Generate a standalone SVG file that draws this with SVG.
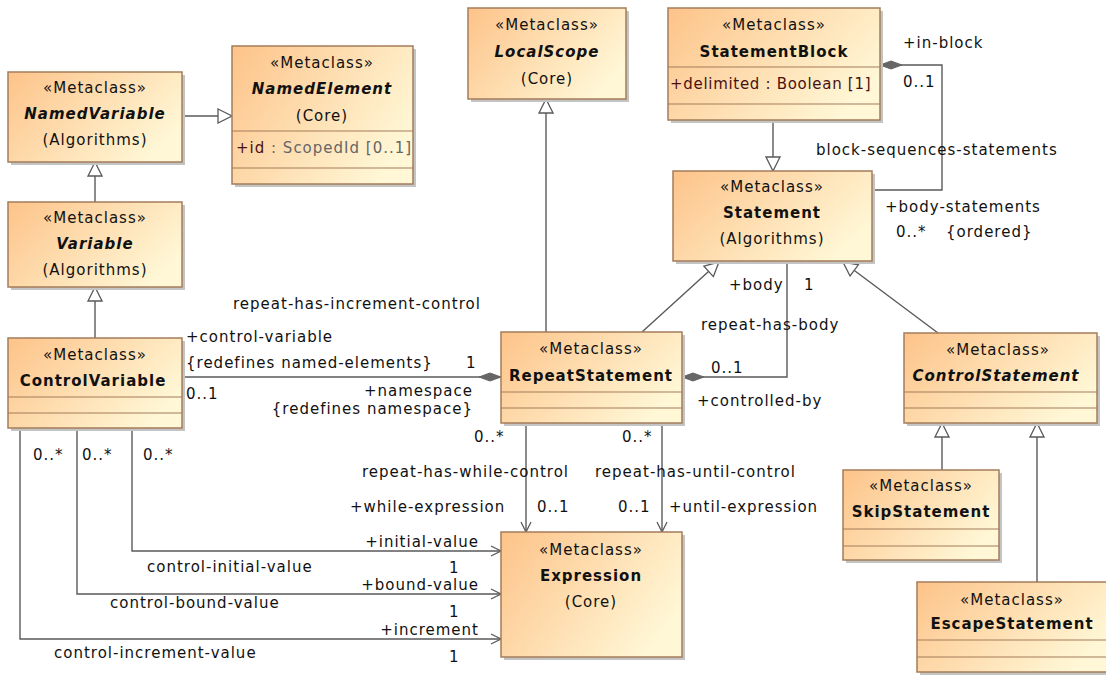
<svg xmlns="http://www.w3.org/2000/svg" width="1106" height="675" viewBox="0 0 1106 675">
<style>
.sh{fill:#c4c4c4}
.box{fill:url(#g);stroke:#a47c5b;stroke-width:1.5}
.cl{stroke:#a47c5b;stroke-width:1.2}
.t{font-family:"DejaVu Sans","Liberation Sans",sans-serif;font-size:15px;letter-spacing:1px;fill:#111}
.m{text-anchor:middle}
.e{text-anchor:end}
.b{font-weight:bold}
.i{font-weight:bold;font-style:italic}
.ln{stroke:#5a5a5a;stroke-width:1.4;fill:none}
.gen{marker-end:url(#gen)}
.arr{marker-end:url(#open)}
.dia{marker-start:url(#dia)}
</style>
<defs>
<linearGradient id="g" x1="0" y1="0.1" x2="1" y2="0.6">
<stop offset="0" stop-color="#fdc58c"/>
<stop offset="1" stop-color="#fff7d6"/>
</linearGradient>
<marker id="gen" markerUnits="userSpaceOnUse" viewBox="0 0 16 16" markerWidth="16" markerHeight="16" refX="15" refY="8" orient="auto">
<path d="M1,1 L15,8 L1,15 z" fill="#fff" stroke="#5a5a5a" stroke-width="1.3"/>
</marker>
<marker id="open" markerUnits="userSpaceOnUse" viewBox="0 0 12 12" markerWidth="12" markerHeight="12" refX="11" refY="6" orient="auto">
<path d="M1,1 L11,6 L1,11" fill="none" stroke="#5a5a5a" stroke-width="1.3"/>
</marker>
<marker id="dia" markerUnits="userSpaceOnUse" viewBox="0 0 24 10" markerWidth="24" markerHeight="10" refX="0" refY="5" orient="auto">
<path d="M0,5 L11,1 L22,5 L11,9 z" fill="#666" stroke="#666" stroke-width="1"/>
</marker>
</defs>
<rect width="1106" height="675" fill="#fff"/>

<g id="connectors">
<path class="ln gen" d="M182,116 H232"/>
<path class="ln gen" d="M95,202 V162"/>
<path class="ln gen" d="M95,338 V287"/>
<path class="ln gen" d="M546,332 V99"/>
<path class="ln gen" d="M773,120 V171"/>
<path class="ln gen" d="M642,332 L719,262"/>
<path class="ln gen" d="M938,333 L843,262"/>
<path class="ln gen" d="M942,470 V423"/>
<path class="ln gen" d="M1037,582 V423"/>
<path class="ln dia" d="M501,377 H182"/>
<path class="ln dia" d="M682,377 H787 V261"/>
<path class="ln dia" d="M880,65 H942 V190 H872"/>
<path class="ln arr" d="M526,423 V532"/>
<path class="ln arr" d="M662,423 V532"/>
<path class="ln arr" d="M132,428 V551 H501"/>
<path class="ln arr" d="M77,428 V594 H501"/>
<path class="ln arr" d="M20,428 V639 H501"/>
</g>

<g id="labels" class="t">
<text x="233" y="309">repeat-has-increment-control</text>
<text x="186" y="342">+control-variable</text>
<text x="186" y="368">{redefines named-elements}</text>
<text x="466" y="368">1</text>
<text x="186" y="399">0..1</text>
<text class="e" x="473" y="396">+namespace</text>
<text class="e" x="473" y="414">{redefines namespace}</text>
<text x="474" y="442">0..*</text>
<text x="362" y="477">repeat-has-while-control</text>
<text x="350" y="512">+while-expression</text>
<text x="537" y="512">0..1</text>
<text x="622" y="442">0..*</text>
<text x="595" y="477">repeat-has-until-control</text>
<text x="618" y="512">0..1</text>
<text x="669" y="512">+until-expression</text>
<text x="729" y="290">+body</text>
<text x="804" y="290">1</text>
<text x="701" y="330">repeat-has-body</text>
<text x="711" y="373">0..1</text>
<text x="697" y="406">+controlled-by</text>
<text x="903" y="48">+in-block</text>
<text x="903" y="87">0..1</text>
<text x="816" y="155">block-sequences-statements</text>
<text x="885" y="212">+body-statements</text>
<text x="896" y="237">0..*</text>
<text x="946" y="237">{ordered}</text>
<text x="33" y="460">0..*</text>
<text x="82" y="460">0..*</text>
<text x="143" y="460">0..*</text>
<text class="e" x="479" y="547">+initial-value</text>
<text x="147" y="572">control-initial-value</text>
<text x="449" y="573">1</text>
<text class="e" x="479" y="590">+bound-value</text>
<text x="110" y="608">control-bound-value</text>
<text x="449" y="617">1</text>
<text class="e" x="479" y="635">+increment</text>
<text x="54" y="658">control-increment-value</text>
<text x="449" y="662">1</text>
</g>

<g id="NamedVariable">
<rect class="sh" x="11" y="75" width="174" height="90"/>
<rect class="box" x="8" y="72" width="174" height="90"/>
<text class="t m" x="95" y="93">«Metaclass»</text>
<text class="t m i" x="95" y="119">NamedVariable</text>
<text class="t m" x="95" y="145">(Algorithms)</text>
</g>

<g id="NamedElement">
<rect class="sh" x="235" y="49" width="181" height="138"/>
<rect class="box" x="232" y="46" width="181" height="138"/>
<line class="cl" x1="232" y1="131" x2="413" y2="131"/>
<line class="cl" x1="232" y1="168" x2="413" y2="168"/>
<text class="t m" x="322" y="68">«Metaclass»</text>
<text class="t m i" x="322" y="94">NamedElement</text>
<text class="t m" x="322" y="121">(Core)</text>
<text class="t" x="236" y="153"><tspan fill="#4a1010">+id</tspan><tspan fill="#666"> : ScopedId [0..1]</tspan></text>
</g>

<g id="Variable">
<rect class="sh" x="11" y="205" width="174" height="85"/>
<rect class="box" x="8" y="202" width="174" height="85"/>
<text class="t m" x="95" y="223">«Metaclass»</text>
<text class="t m i" x="95" y="249">Variable</text>
<text class="t m" x="95" y="275">(Algorithms)</text>
</g>

<g id="ControlVariable">
<rect class="sh" x="11" y="341" width="174" height="90"/>
<rect class="box" x="8" y="338" width="174" height="90"/>
<line class="cl" x1="8" y1="397" x2="182" y2="397"/>
<line class="cl" x1="8" y1="413" x2="182" y2="413"/>
<text class="t m" x="95" y="360">«Metaclass»</text>
<text class="t m b" x="93" y="386">ControlVariable</text>
</g>

<g id="LocalScope">
<rect class="sh" x="471" y="11" width="158" height="91"/>
<rect class="box" x="468" y="8" width="158" height="91"/>
<text class="t m" x="547" y="30">«Metaclass»</text>
<text class="t m i" x="547" y="57">LocalScope</text>
<text class="t m" x="547" y="84">(Core)</text>
</g>

<g id="StatementBlock">
<rect class="sh" x="671" y="11" width="212" height="112"/>
<rect class="box" x="668" y="8" width="212" height="112"/>
<line class="cl" x1="668" y1="67" x2="880" y2="67"/>
<line class="cl" x1="668" y1="104" x2="880" y2="104"/>
<text class="t m" x="774" y="30">«Metaclass»</text>
<text class="t m b" x="774" y="57">StatementBlock</text>
<text class="t" x="670" y="89" style="fill:#4a1010;letter-spacing:0.7px">+delimited : Boolean [1]</text>
</g>

<g id="Statement">
<rect class="sh" x="676" y="174" width="199" height="90"/>
<rect class="box" x="673" y="171" width="199" height="90"/>
<text class="t m" x="772" y="192">«Metaclass»</text>
<text class="t m b" x="772" y="218">Statement</text>
<text class="t m" x="772" y="244">(Algorithms)</text>
</g>

<g id="RepeatStatement">
<rect class="sh" x="504" y="335" width="181" height="91"/>
<rect class="box" x="501" y="332" width="181" height="91"/>
<line class="cl" x1="501" y1="392" x2="682" y2="392"/>
<line class="cl" x1="501" y1="408" x2="682" y2="408"/>
<text class="t m" x="591" y="354">«Metaclass»</text>
<text class="t m b" x="591" y="381">RepeatStatement</text>
</g>

<g id="Expression">
<rect class="sh" x="504" y="535" width="181" height="125"/>
<rect class="box" x="501" y="532" width="181" height="125"/>
<text class="t m" x="591" y="555">«Metaclass»</text>
<text class="t m b" x="591" y="581">Expression</text>
<text class="t m" x="591" y="607">(Core)</text>
</g>

<g id="ControlStatement">
<rect class="sh" x="907" y="336" width="193" height="90"/>
<rect class="box" x="904" y="333" width="193" height="90"/>
<line class="cl" x1="904" y1="392" x2="1097" y2="392"/>
<line class="cl" x1="904" y1="408" x2="1097" y2="408"/>
<text class="t m" x="998" y="355">«Metaclass»</text>
<text class="t m i" x="996" y="381">ControlStatement</text>
</g>

<g id="SkipStatement">
<rect class="sh" x="846" y="473" width="156" height="90"/>
<rect class="box" x="843" y="470" width="156" height="90"/>
<line class="cl" x1="843" y1="529" x2="999" y2="529"/>
<line class="cl" x1="843" y1="546" x2="999" y2="546"/>
<text class="t m" x="921" y="491">«Metaclass»</text>
<text class="t m b" x="921" y="517">SkipStatement</text>
</g>

<g id="EscapeStatement">
<rect class="sh" x="920" y="585" width="190" height="90"/>
<rect class="box" x="917" y="582" width="192" height="90"/>
<line class="cl" x1="917" y1="640" x2="1109" y2="640"/>
<line class="cl" x1="917" y1="657" x2="1109" y2="657"/>
<text class="t m" x="1012" y="605">«Metaclass»</text>
<text class="t m b" x="1012" y="629">EscapeStatement</text>
</g>
</svg>
